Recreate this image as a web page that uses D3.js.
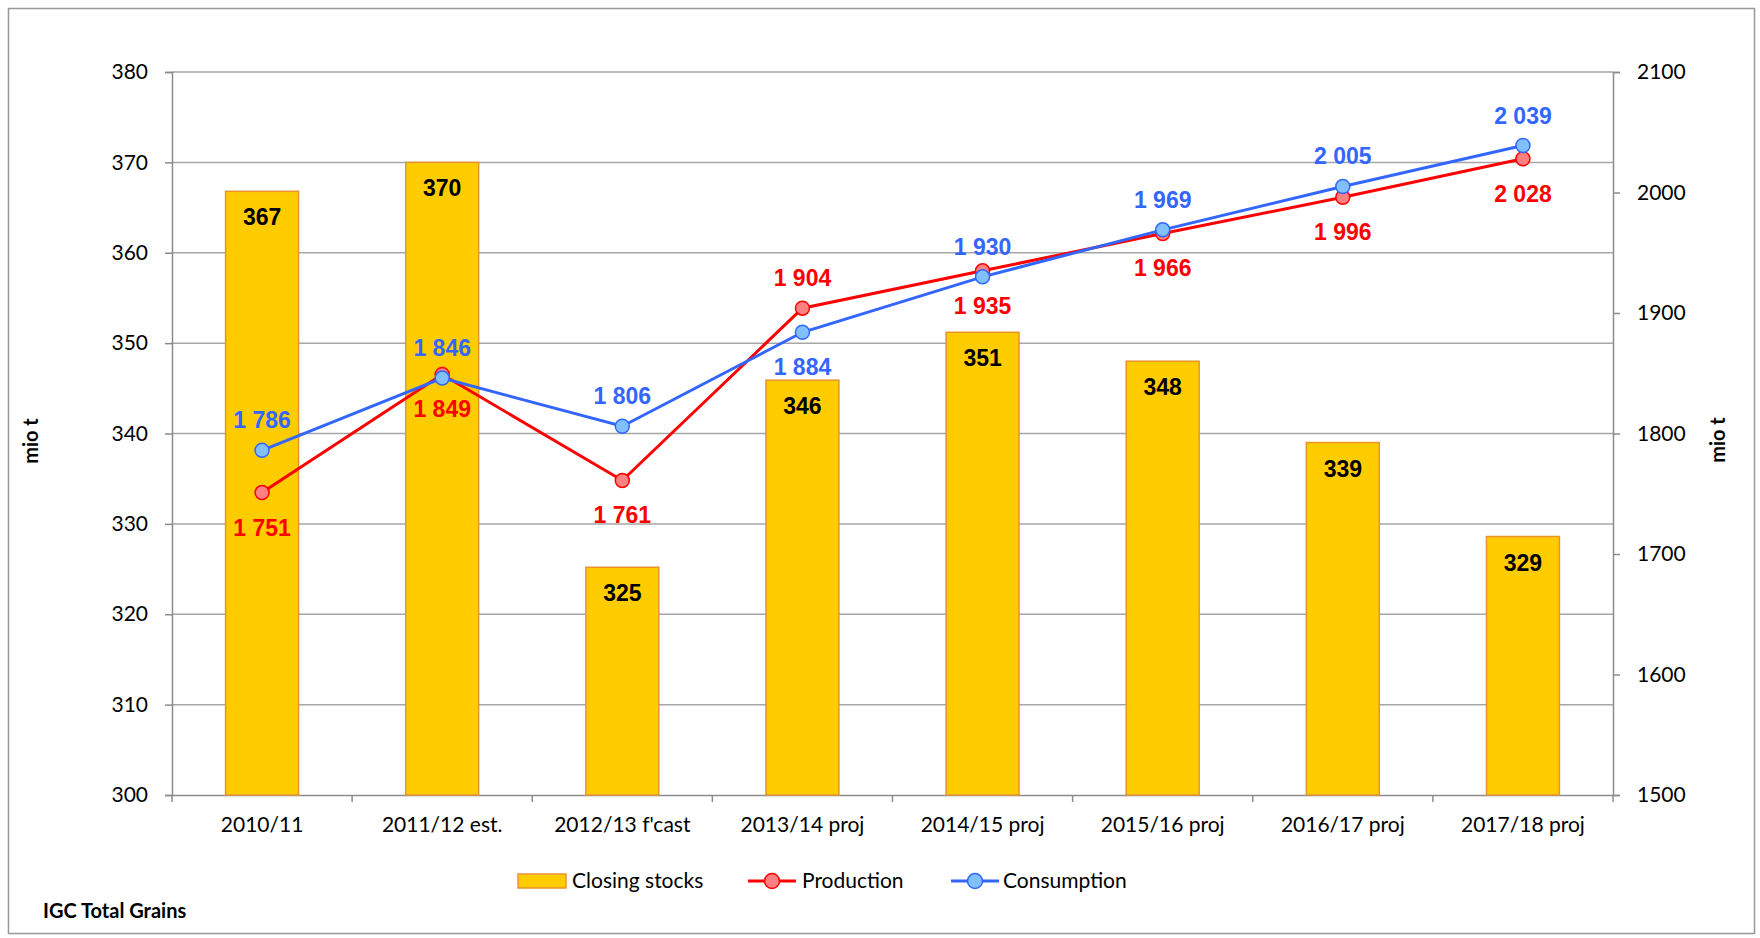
<!DOCTYPE html>
<html>
<head>
<meta charset="utf-8">
<script src="https://cdn.jsdelivr.net/npm/d3@7"></script>
<style>
  body { margin: 0; background: #fff; }
  svg { display: block; }
  .tick text { font-family: Lato, "Noto Sans", sans-serif; font-size: 21px; fill: #000; }
</style>
</head>
<body>
<svg id="chart" width="1760" height="938"></svg>
<script>
// chart data
var categories = ["2010/11", "2011/12 est.", "2012/13 f'cast", "2013/14 proj", "2014/15 proj", "2015/16 proj", "2016/17 proj", "2017/18 proj"];
var closingStocks = [366.8, 370.0, 325.2, 345.9, 351.2, 348.0, 339.0, 328.6];
var production = [1751, 1849, 1761, 1904, 1935, 1966, 1996, 2028];
var consumption = [1786, 1846, 1806, 1884, 1930, 1969, 2005, 2039];
var leftTicks = [300, 310, 320, 330, 340, 350, 360, 370, 380];
var rightTicks = [1500, 1600, 1700, 1800, 1900, 2000, 2100];
// the one year where production is labelled above and consumption below
var swapLabels = [3];

var svg = d3.select("#chart");
var plot = {left: 172, right: 1613, top: 72, bottom: 795};

var x = d3.scaleBand().domain(categories).range([plot.left, plot.right]).paddingInner(0).paddingOuter(0);
var yL = d3.scaleLinear().domain([300, 380]).range([plot.bottom, plot.top]);
var yR = d3.scaleLinear().domain([1500, 2100]).range([plot.bottom, plot.top]);

var fmt = function(v) { return d3.format(",")(v).replace(",", " "); };

// outer frame
svg.append("rect")
	.attr("x", 8.5).attr("y", 8.5)
	.attr("width", 1746).attr("height", 925)
	.attr("fill", "none").attr("stroke", "#999").attr("stroke-width", 1.5);

// gridlines
svg.append("g").selectAll("line")
	.data(leftTicks.slice(1))
	.enter().append("line")
		.attr("x1", plot.left).attr("x2", plot.right)
		.attr("y1", function(d) { return yL(d); })
		.attr("y2", function(d) { return yL(d); })
		.attr("stroke", "#a6a6a6").attr("stroke-width", 1.5);

// axes
var axisL = svg.append("g")
	.attr("transform", "translate(" + plot.left + ",0)")
	.call(d3.axisLeft(yL).tickValues(leftTicks).tickSize(7).tickPadding(17));
var axisR = svg.append("g")
	.attr("transform", "translate(" + plot.right + ",0)")
	.call(d3.axisRight(yR).tickValues(rightTicks).tickSize(7).tickPadding(17).tickFormat(d3.format("d")));
var axisB = svg.append("g")
	.attr("transform", "translate(0," + plot.bottom + ")")
	.call(d3.axisBottom(x).tickSize(0).tickPadding(22));

[axisL, axisR, axisB].forEach(function(a) {
	a.select(".domain").attr("stroke", "#8c8c8c").attr("stroke-width", 1.5);
	a.selectAll(".tick line").attr("stroke", "#8c8c8c").attr("stroke-width", 1.5);
});

// category boundary ticks on the x axis
svg.append("g").selectAll("line")
	.data(categories.concat(["end"]))
	.enter().append("line")
		.attr("x1", function(d, i) { return i < categories.length ? x(d) : plot.right; })
		.attr("x2", function(d, i) { return i < categories.length ? x(d) : plot.right; })
		.attr("y1", plot.bottom).attr("y2", plot.bottom + 7)
		.attr("stroke", "#8c8c8c").attr("stroke-width", 1.5);

// bars
var barW = x.bandwidth() * 0.405;
var bars = svg.append("g").selectAll(".bar")
	.data(closingStocks)
	.enter().append("g").attr("class", "bar");

bars.append("rect")
	.attr("x", function(d, i) { return x(categories[i]) + x.bandwidth() / 2 - barW / 2; })
	.attr("y", function(d) { return yL(d); })
	.attr("width", barW)
	.attr("height", function(d) { return plot.bottom - yL(d); })
	.attr("fill", "#ffcc00")
	.attr("stroke", "#e8942c").attr("stroke-width", 1.5);

bars.append("text")
	.attr("x", function(d, i) { return x(categories[i]) + x.bandwidth() / 2; })
	.attr("y", function(d) { return yL(d) + 34; })
	.attr("text-anchor", "middle")
	.attr("font-family", "Liberation Sans, Arial, sans-serif")
	.attr("font-weight", "bold").attr("font-size", 23)
	.text(function(d) { return Math.round(d); });

// lines
var series = [
	{name: "Production", values: production, line: "#ff0000", fill: "#ff8080"},
	{name: "Consumption", values: consumption, line: "#3366ff", fill: "#80c0ff"}
];

var cx = function(i) { return x(categories[i]) + x.bandwidth() / 2; };

series.forEach(function(s) {
	var line = d3.line()
		.x(function(d, i) { return cx(i); })
		.y(function(d) { return yR(d); });

	svg.append("path")
		.datum(s.values)
		.attr("d", line)
		.attr("fill", "none")
		.attr("stroke", s.line).attr("stroke-width", 3);

	svg.append("g").selectAll("circle")
		.data(s.values)
		.enter().append("circle")
			.attr("cx", function(d, i) { return cx(i); })
			.attr("cy", function(d) { return yR(d); })
			.attr("r", 7)
			.attr("fill", s.fill)
			.attr("stroke", s.line).attr("stroke-width", 1.5);
});

// line value labels
series.forEach(function(s) {
	var isProd = s.name == "Production";
	svg.append("g").selectAll("text")
		.data(s.values)
		.enter().append("text")
			.attr("x", function(d, i) { return cx(i); })
			.attr("y", function(d, i) {
				var above = isProd ? swapLabels.indexOf(i) >= 0 : swapLabels.indexOf(i) < 0;
				return above ? yR(d) - 22 : yR(d) + 43;
			})
			.attr("text-anchor", "middle")
			.attr("font-family", "Liberation Sans, Arial, sans-serif")
			.attr("font-weight", "bold").attr("font-size", 23)
			.attr("fill", s.line)
			.text(function(d) { return fmt(d); });
});

// axis titles
svg.append("text")
	.attr("transform", "translate(38,441) rotate(-90)")
	.attr("text-anchor", "middle")
	.attr("font-family", "Lato, 'Noto Sans', sans-serif")
	.attr("font-weight", "bold").attr("font-size", 20)
	.text("mio t");
svg.append("text")
	.attr("transform", "translate(1725,440) rotate(-90)")
	.attr("text-anchor", "middle")
	.attr("font-family", "Lato, 'Noto Sans', sans-serif")
	.attr("font-weight", "bold").attr("font-size", 20)
	.text("mio t");

// legend
var legend = svg.append("g").attr("font-family", "Lato, 'Noto Sans', sans-serif").attr("font-size", 21);
legend.append("rect")
	.attr("x", 518).attr("y", 874).attr("width", 48).attr("height", 14)
	.attr("fill", "#ffcc00").attr("stroke", "#e8942c").attr("stroke-width", 1.5);
legend.append("text").attr("x", 572).attr("y", 888).text("Closing stocks");

[{s: series[0], x0: 748, tx: 802}, {s: series[1], x0: 951, tx: 1003}].forEach(function(l) {
	legend.append("line")
		.attr("x1", l.x0).attr("x2", l.x0 + 48)
		.attr("y1", 881).attr("y2", 881)
		.attr("stroke", l.s.line).attr("stroke-width", 3);
	legend.append("circle")
		.attr("cx", l.x0 + 24).attr("cy", 881).attr("r", 7.5)
		.attr("fill", l.s.fill).attr("stroke", l.s.line).attr("stroke-width", 1.5);
	legend.append("text").attr("x", l.tx).attr("y", 888).text(l.s.name);
});

// footer
svg.append("text")
	.attr("x", 43).attr("y", 918)
	.attr("font-family", "Lato, 'Noto Sans', sans-serif")
	.attr("font-weight", "bold").attr("font-size", 20)
	.text("IGC Total Grains");
</script>
</body>
</html>
